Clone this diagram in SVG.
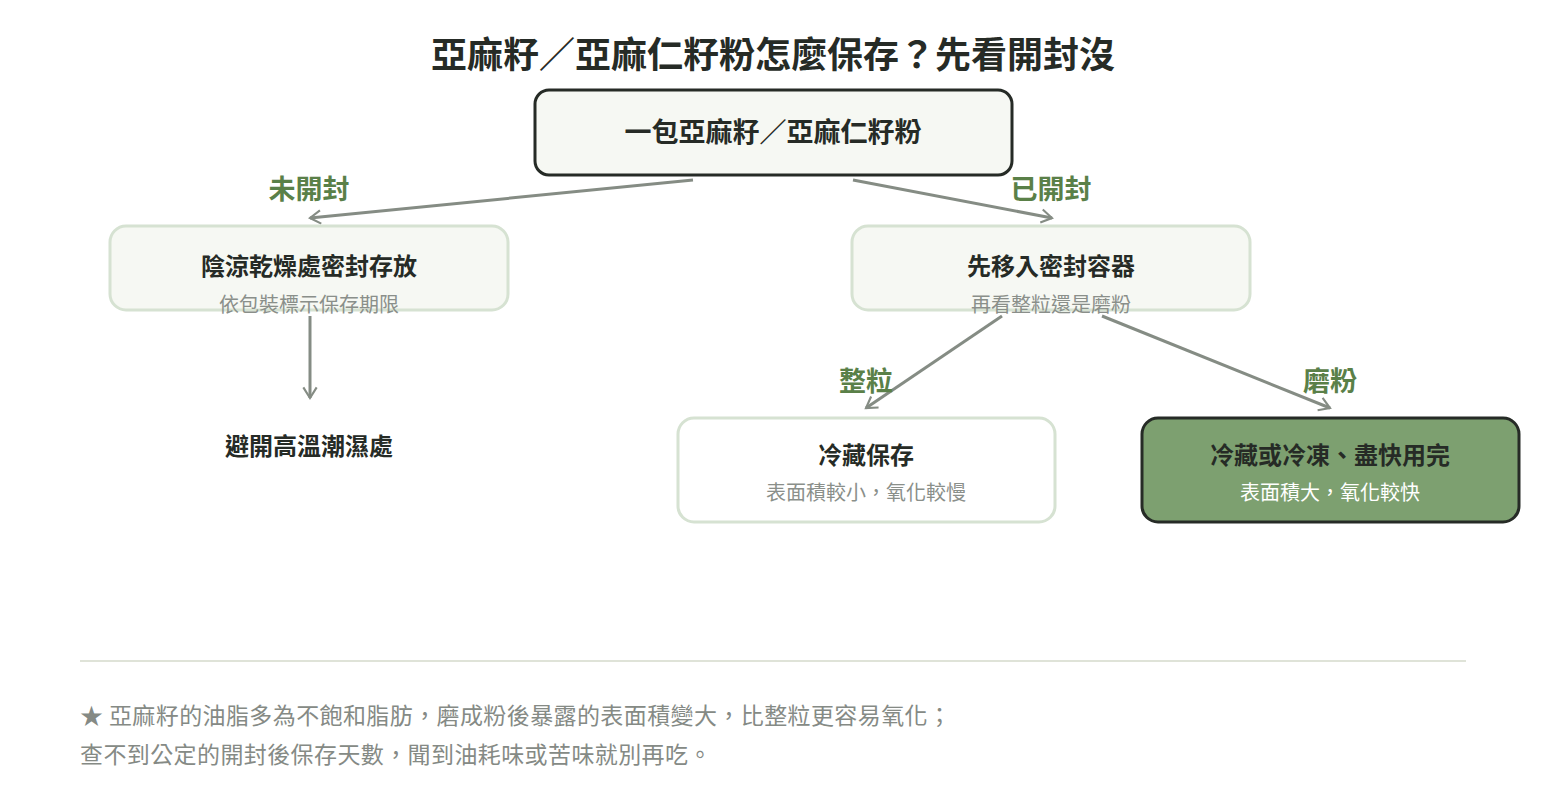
<svg xmlns="http://www.w3.org/2000/svg" width="1546" height="800" viewBox="0 0 1546 800">
<style>
text{font-family:"Noto Sans CJK TC","Noto Sans",sans-serif;text-anchor:middle}
.t{font-size:24px;font-weight:bold;fill:#262b26}
.s{font-size:20px;fill:#8a8f8a}
.l{font-size:27px;font-weight:bold;fill:#5a8048}
.c{stroke:#858c84;stroke-width:3;fill:none;marker-end:url(#a)}
.n{font-size:23px;fill:#858a85;text-anchor:start;letter-spacing:0.4px}
</style>
<defs><marker id="a" viewBox="0 0 12 12" refX="10" refY="6" markerWidth="16" markerHeight="16" orient="auto" markerUnits="userSpaceOnUse"><path d="M2,1 L10,6 L2,11" fill="none" stroke="#858c84" stroke-width="1.6"/></marker></defs>
<rect width="1546" height="800" fill="#fff"/>
<text x="773" y="68" style="font-size:36px;font-weight:bold;fill:#262b26">亞麻籽／亞麻仁籽粉怎麼保存？先看開封沒</text>
<g id="connectors">
<line class="c" x1="693" y1="180" x2="310" y2="218"/>
<line class="c" x1="853" y1="180" x2="1052" y2="218"/>
<line class="c" x1="310" y1="316" x2="310" y2="398"/>
<line class="c" x1="1002" y1="316" x2="866" y2="408"/>
<line class="c" x1="1102" y1="316" x2="1330" y2="408"/>
<text class="l" x="309" y="199">未開封</text>
<text class="l" x="1051" y="199">已開封</text>
<text class="l" x="866" y="391">整粒</text>
<text class="l" x="1330" y="391">磨粉</text>
</g>
<g id="root"><rect x="535" y="90" width="477" height="85" rx="14" fill="#f6f8f3" stroke="#262b26" stroke-width="3"/><text class="t" x="773" y="142" style="font-size:27px">一包亞麻籽／亞麻仁籽粉</text></g>
<g id="n1"><rect x="110" y="226" width="398" height="84" rx="16" fill="#f6f8f3" stroke="#d6e2d2" stroke-width="3"/><text class="t" x="309" y="275">陰涼乾燥處密封存放</text><text class="s" x="309" y="312">依包裝標示保存期限</text></g>
<g id="n2"><rect x="852" y="226" width="398" height="84" rx="16" fill="#f6f8f3" stroke="#d6e2d2" stroke-width="3"/><text class="t" x="1051" y="275">先移入密封容器</text><text class="s" x="1051" y="312">再看整粒還是磨粉</text></g>
<g id="n3"><text class="t" x="309" y="455">避開高溫潮濕處</text></g>
<g id="n4"><rect x="678" y="418" width="377" height="104" rx="16" fill="#fff" stroke="#d6e2d2" stroke-width="3"/><text class="t" x="866" y="464">冷藏保存</text><text class="s" x="866" y="500">表面積較小，氧化較慢</text></g>
<g id="n5"><rect x="1142" y="418" width="377" height="104" rx="16" fill="#7da070" stroke="#262b26" stroke-width="3"/><text class="t" x="1330" y="464">冷藏或冷凍、盡快用完</text><text class="s" x="1330" y="500" style="fill:#fff">表面積大，氧化較快</text></g>
<line x1="80" y1="661" x2="1466" y2="661" stroke="#dfe3d8" stroke-width="2"/>
<text class="n" x="80" y="724">★ 亞麻籽的油脂多為不飽和脂肪，磨成粉後暴露的表面積變大，比整粒更容易氧化；</text>
<text class="n" x="80" y="763">查不到公定的開封後保存天數，聞到油耗味或苦味就別再吃。</text>
</svg>
